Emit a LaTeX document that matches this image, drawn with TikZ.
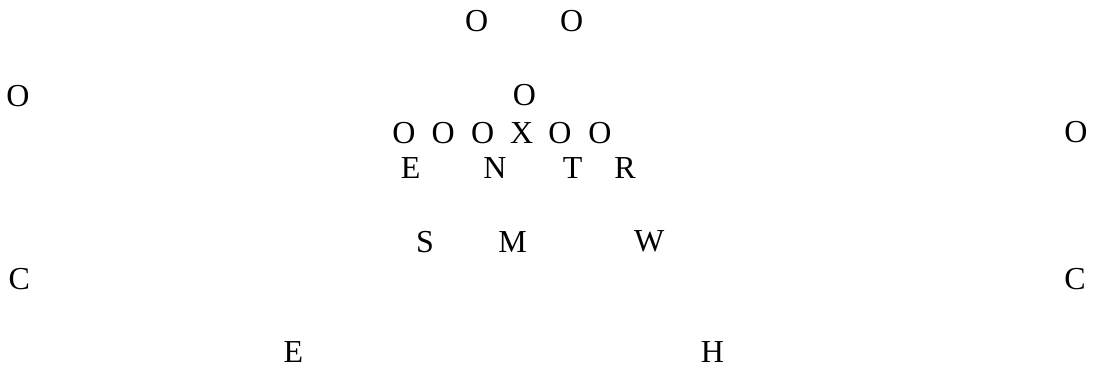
\documentclass[tikz,border=0pt]{standalone}
\usepackage{fontspec}
\setmainfont{Liberation Serif}
\usetikzlibrary{positioning}

\begin{document}
\begin{tikzpicture}[
  x=0.75pt, y=-0.75pt,
  every node/.style={inner sep=0pt, font=\fontsize{24}{28}\selectfont},
  offense/.style={anchor=center},
  defense/.style={anchor=center}
]
\useasboundingbox (0,0) rectangle (1093,368);

% Offense
\node[offense] (back1) at (476.7,20.7) {O};
\node[offense] (back2) at (571.7,20.7) {O};
\node[offense] (qb) at (524.3,95) {O};
\node[offense] (wide1) at (18,96) {O};
\node[offense] (wide2) at (1076,132.3) {O};
\node[offense] (line1) at (404,132.7) {O};
\node[offense] (line2) at (443.3,132.7) {O};
\node[offense] (line3) at (482.7,132.7) {O};
\node[offense] (center) at (521.7,132.7) {X};
\node[offense] (line4) at (560,132.7) {O};
\node[offense] (line5) at (600,132.7) {O};

% Defensive line
\node[defense] (dline1) at (410.7,168.3) {E};
\node[defense] (dline2) at (495,168.3) {N};
\node[defense] (dline3) at (572.7,168.3) {T};
\node[defense] (dline4) at (625,168.3) {R};

% Linebackers
\node[defense] (lb1) at (425,241.7) {S};
\node[defense] (lb2) at (512.7,241.7) {M};
\node[defense] (lb3) at (649.3,241.7) {W};

% Secondary
\node[defense] (corner1) at (19.3,279) {C};
\node[defense] (corner2) at (1075,279) {C};
\node[defense] (safety1) at (293.3,351.7) {E};
\node[defense] (safety2) at (712.3,351.7) {H};

\end{tikzpicture}
\end{document}
